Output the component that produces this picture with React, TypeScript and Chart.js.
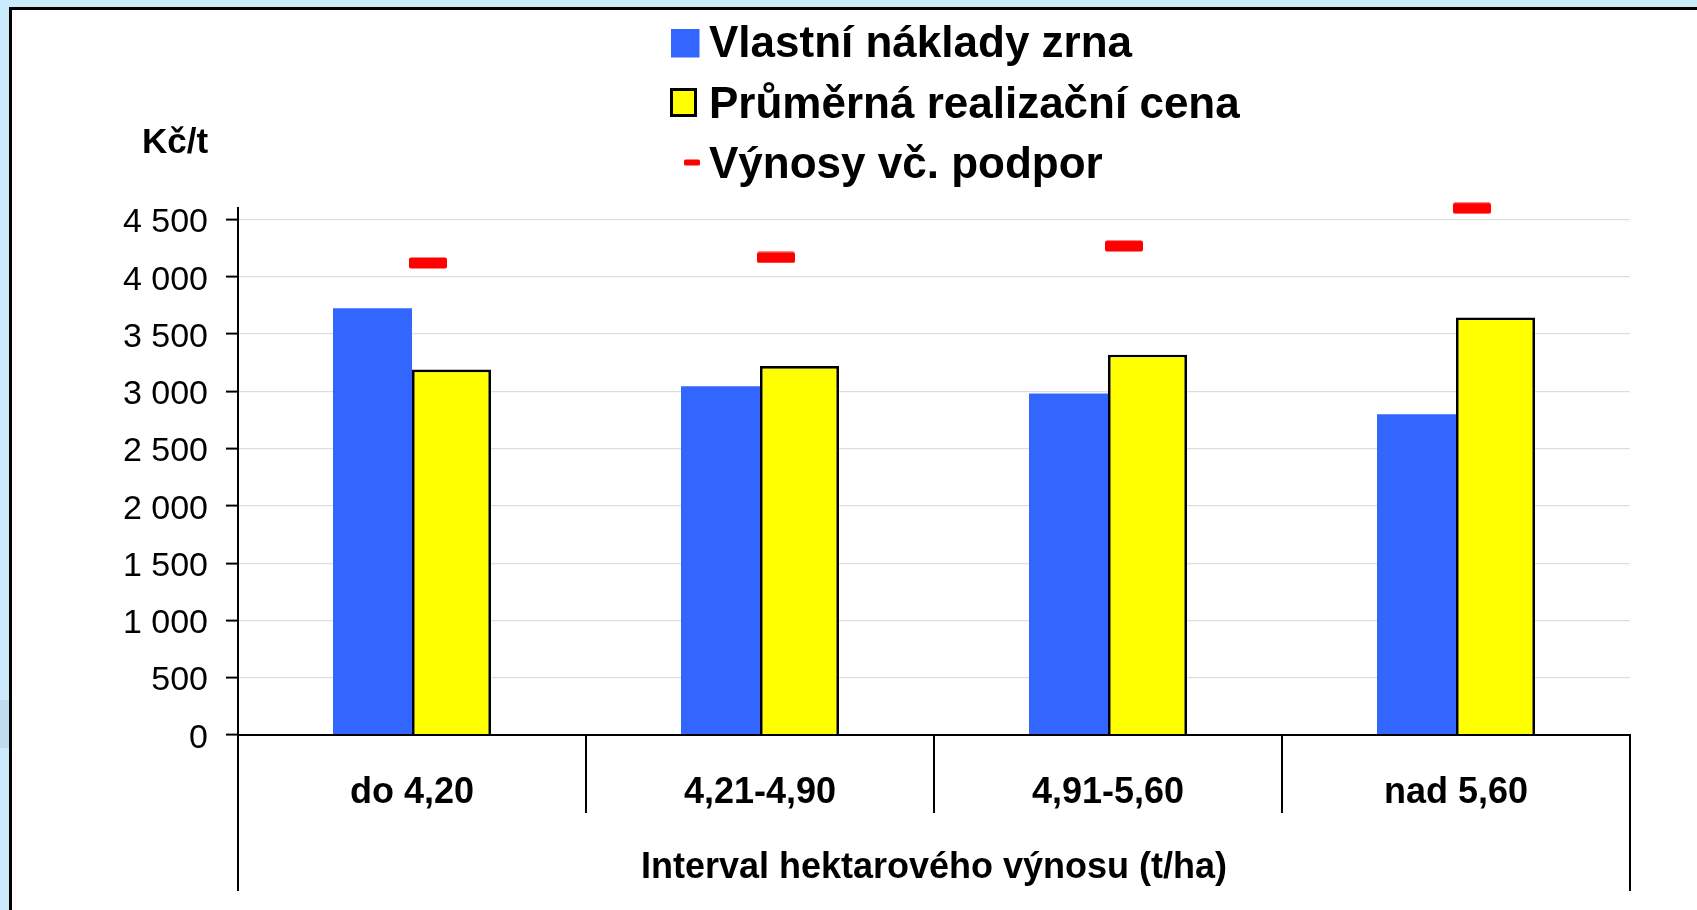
import React, { useEffect, useRef } from 'react';
import { Chart, registerables } from 'chart.js';

Chart.register(...registerables);

const categories = ['do 4,20', '4,21-4,90', '4,91-5,60', 'nad 5,60'];
const nakladyZrna = [3725, 3045, 2980, 2800];
const realizacniCena = [3190, 3220, 3320, 3645];
const vynosyPodpor = [4120, 4168, 4268, 4598];
const yTickValues = [0, 500, 1000, 1500, 2000, 2500, 3000, 3500, 4000, 4500];
const yMax = 4600;
const seriesLabels = ['Vlastní náklady zrna', 'Průměrná realizační cena', 'Výnosy vč. podpor'];
const yUnitLabel = 'Kč/t';
const xAxisTitle = 'Interval hektarového výnosu (t/ha)';

const FONT = "'Liberation Sans', Arial, Helvetica, sans-serif";
const BLUE = '#3366FF';
const YELLOW = '#FFFF00';
const RED = '#FF0000';

const fmt = (v: number) => String(v).replace(/\B(?=(\d{3})+(?!\d))/g, ' ');

function roundRect(ctx: CanvasRenderingContext2D, x: number, y: number, w: number, h: number, r: number) {
  ctx.beginPath();
  ctx.moveTo(x + r, y);
  ctx.lineTo(x + w - r, y);
  ctx.quadraticCurveTo(x + w, y, x + w, y + r);
  ctx.lineTo(x + w, y + h - r);
  ctx.quadraticCurveTo(x + w, y + h, x + w - r, y + h);
  ctx.lineTo(x + r, y + h);
  ctx.quadraticCurveTo(x, y + h, x, y + h - r);
  ctx.lineTo(x, y + r);
  ctx.quadraticCurveTo(x, y, x + r, y);
  ctx.closePath();
}

function makeMarker(): HTMLCanvasElement {
  // dash marker drawn to the right of the point centre, like the Excel original
  const c = document.createElement('canvas');
  c.width = 70;
  c.height = 12;
  const g = c.getContext('2d')!;
  g.fillStyle = RED;
  roundRect(g, 32, 0.5, 38, 11, 2);
  g.fill();
  return c;
}

const decorPlugin = {
  id: 'decor',
  afterDraw(chart: any) {
    const ctx: CanvasRenderingContext2D = chart.ctx;
    const xs = chart.scales.x;
    const ys = chart.scales.y;
    const area = chart.chartArea;
    const n = chart.data.labels.length;
    const half = (xs.getPixelForValue(1) - xs.getPixelForValue(0)) / 2;
    const y0 = Math.round(ys.getPixelForValue(0));
    ctx.save();
    ctx.strokeStyle = '#000';
    ctx.lineWidth = 2;
    ctx.beginPath();
    ctx.moveTo(area.left, y0);
    ctx.lineTo(area.right + 1, y0);
    ctx.stroke();
    for (let i = 0; i <= n; i++) {
      const px = Math.round(i < n ? xs.getPixelForValue(i) - half : xs.getPixelForValue(n - 1) + half);
      const outer = i === 0 || i === n;
      ctx.beginPath();
      ctx.moveTo(px, y0 - 1);
      ctx.lineTo(px, y0 + (outer ? 156 : 78));
      ctx.stroke();
    }

    // unit label
    ctx.fillStyle = '#000';
    ctx.textAlign = 'left';
    ctx.textBaseline = 'alphabetic';
    ctx.font = `bold 35px ${FONT}`;
    ctx.fillText(yUnitLabel, 142, 153);

    // legend
    const ds = chart.data.datasets;
    const lx = 709;
    const baselines = [57, 118, 178];
    ctx.font = `bold 44px ${FONT}`;
    ctx.fillStyle = ds[0].backgroundColor;
    ctx.fillRect(671, 29, 28.5, 28.5);
    ctx.fillStyle = ds[1].backgroundColor;
    ctx.fillRect(671.5, 89.5, 24, 26);
    ctx.strokeStyle = '#000';
    ctx.lineWidth = 3;
    ctx.strokeRect(671.5, 89.5, 24, 26);
    ctx.fillStyle = RED;
    roundRect(ctx, 684, 159.5, 16, 6, 1.5);
    ctx.fill();
    ctx.fillStyle = '#000';
    for (let i = 0; i < 3; i++) {
      ctx.fillText(ds[i].label, lx, baselines[i]);
    }
    ctx.restore();
  },
};

export default function App() {
  const ref = useRef<HTMLCanvasElement | null>(null);

  useEffect(() => {
    if (!ref.current) return;
    const marker = makeMarker();
    const chart = new Chart(ref.current, {
      type: 'bar',
      data: {
        labels: categories,
        datasets: [
          {
            type: 'bar',
            label: seriesLabels[0],
            data: nakladyZrna,
            backgroundColor: BLUE,
            borderWidth: 0,
            categoryPercentage: 0.454,
            barPercentage: 1,
            order: 1,
          },
          {
            type: 'bar',
            label: seriesLabels[1],
            data: realizacniCena,
            backgroundColor: YELLOW,
            borderColor: '#000',
            borderWidth: 2.7,
            categoryPercentage: 0.454,
            barPercentage: 1,
            order: 1,
          },
          {
            type: 'line',
            label: seriesLabels[2],
            data: vynosyPodpor,
            showLine: false,
            pointStyle: marker as any,
            pointRadius: 5,
            pointHoverRadius: 5,
            borderColor: RED,
            backgroundColor: RED,
            clip: false as any,
            order: 0,
          } as any,
        ],
      },
      options: {
        responsive: false,
        animation: false,
        devicePixelRatio: 1,
        layout: { padding: { top: 208, left: 0, right: 67, bottom: 0 } },
        plugins: {
          legend: { display: false },
          tooltip: { enabled: false },
          title: { display: false },
        },
        scales: {
          x: {
            type: 'category',
            offset: true,
            grid: { display: false, drawTicks: false },
            border: { display: true, color: '#000', width: 2 },
            ticks: {
              color: '#000',
              font: { family: FONT, size: 36, weight: 'bold' },
              padding: 36,
              autoSkip: false,
              maxRotation: 0,
              minRotation: 0,
            },
            title: {
              display: true,
              text: xAxisTitle,
              color: '#000',
              font: { family: FONT, size: 36, weight: 'bold' },
              padding: { top: 0, bottom: 20 },
            },
            afterFit: (s: any) => {
              s.height = 175;
            },
          },
          y: {
            min: 0,
            max: yMax,
            grid: {
              color: (c: any) => (c.tick && c.tick.value === 0 ? 'rgba(0,0,0,0)' : '#dedede'),
              lineWidth: 1.2,
              tickColor: '#000',
              tickWidth: 2,
              tickLength: 12,
            },
            border: { display: true, color: '#000', width: 2 },
            ticks: {
              color: '#000',
              // two-line label with a tiny line height nudges the text ~3px below the tick, as in the original
              font: { family: FONT, size: 34, lineHeight: 0.2 },
              padding: 18,
              callback: (v: any) => ['', fmt(Number(v))],
            },
            afterBuildTicks: (s: any) => {
              s.ticks = yTickValues.map((v) => ({ value: v }));
            },
            afterFit: (s: any) => {
              s.width = 238;
            },
          },
        },
      },
      plugins: [decorPlugin],
    } as any);
    return () => chart.destroy();
  }, []);

  return (
    <div
      style={{
        position: 'fixed',
        left: 0,
        top: 0,
        width: 1697,
        height: 910,
        overflow: 'hidden',
        background: '#CCEBFA',
      }}
    >
      <div style={{ position: 'absolute', left: 0, top: 700, width: 10, height: 48, background: '#C0DCEF' }} />
      <div
        style={{
          position: 'absolute',
          left: 9,
          top: 7,
          width: 1720,
          height: 930,
          boxSizing: 'border-box',
          border: '3px solid #000',
          background: '#FFFFFF',
        }}
      />
      <canvas ref={ref} width={1697} height={910} style={{ position: 'absolute', left: 0, top: 0 }} />
    </div>
  );
}
